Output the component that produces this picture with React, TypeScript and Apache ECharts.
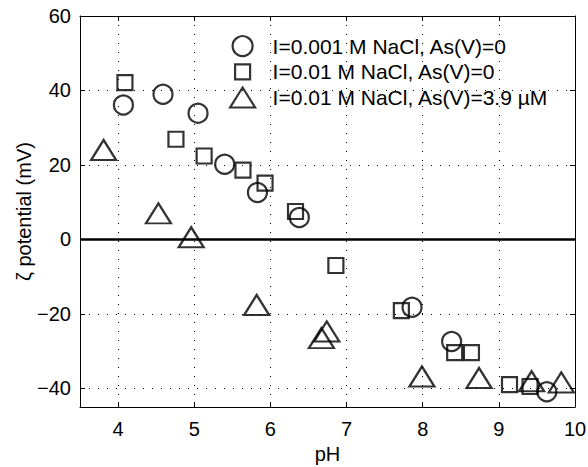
import React, { useEffect, useRef } from "react";
import * as echarts from "echarts";

const seriesNames = [
  "I=0.001 M NaCl, As(V)=0",
  "I=0.01 M NaCl, As(V)=0",
  "I=0.01 M NaCl, As(V)=3.9 \u00b5M",
];

const circlePH = [4.07, 4.59, 5.05, 5.4, 5.83, 6.38, 7.86, 8.38, 9.63];
const circleZeta = [36.1, 39.0, 33.9, 20.2, 12.6, 5.9, -18.2, -27.4, -40.9];

const squarePH = [4.09, 4.76, 5.13, 5.64, 5.93, 6.33, 6.86, 7.72, 8.42, 8.64, 9.14, 9.41];
const squareZeta = [42.1, 26.9, 22.4, 18.6, 15.1, 7.5, -7.0, -19.1, -30.4, -30.4, -39.0, -39.5];

const trianglePH = [3.81, 4.53, 4.96, 5.82, 6.74, 6.67, 7.99, 8.74, 9.43, 9.82];
const triangleZeta = [24.0, 7.0, 0.6, -17.6, -24.7, -26.5, -36.8, -37.2, -38.1, -38.4];

const xTicks = [4, 5, 6, 7, 8, 9, 10];
const yTicks = [-40, -20, 0, 20, 40, 60];

const FONT = "'Liberation Sans', Arial, Helvetica, sans-serif";
const FS = 20;

function pairs(xs: number[], ys: number[]) {
  return xs.map((x, i) => [x, ys[i]]);
}

export default function App() {
  const ref = useRef<HTMLDivElement>(null);

  useEffect(() => {
    if (!ref.current) return;
    const chart = echarts.init(ref.current, null, { renderer: "svg" });
    const markerStyle = { color: "transparent", borderColor: "#000", borderWidth: 2.2 };
    const fmt = (v: number) => String(v).replace("-", "\u2212");
    const option: any = {
      animation: false,
      backgroundColor: "#fff",
      textStyle: { fontFamily: FONT },
      grid: { left: 80, right: 13, top: 16, bottom: 60, show: false, containLabel: false, outerBoundsMode: "none" },
      legend: {
        orient: "vertical",
        left: 229,
        top: 35,
        padding: 0,
        itemWidth: 50,
        itemHeight: 20,
        itemGap: 3.5,
        symbolKeepAspect: true,
        selectedMode: false,
        textStyle: { fontSize: 21, lineHeight: 20, color: "#000", fontFamily: FONT },
        itemStyle: { color: "transparent", borderColor: "#000", borderWidth: 2.2 },
        data: [
          { name: seriesNames[0], icon: "circle" },
          { name: seriesNames[1], icon: "path://M0,0M20,20M2.5,2.5L17.5,2.5L17.5,17.5L2.5,17.5Z" },
          { name: seriesNames[2], icon: "path://M12.5,0L25,20L0,20Z" },
        ],
      },
      xAxis: [
        {
          type: "value",
          min: 3.5,
          max: 10,
          position: "bottom",
          name: "pH",
          nameLocation: "middle",
          nameGap: 37,
          nameMoveOverlap: false,
          nameTextStyle: { fontSize: FS, color: "#000", fontFamily: FONT },
          axisLine: { show: true, onZero: false, lineStyle: { color: "#000", width: 1 } },
          axisTick: { show: true, inside: true, length: 5, customValues: xTicks, lineStyle: { color: "#000" } },
          axisLabel: { fontSize: FS, color: "#000", margin: 12, customValues: xTicks, formatter: fmt, fontFamily: FONT },
          splitLine: { show: true, lineStyle: { color: "#000", width: 1, type: [1, 8] } },
        },
        {
          type: "value",
          min: 3.5,
          max: 10,
          position: "top",
          axisLine: { show: true, onZero: false, lineStyle: { color: "#000", width: 1 } },
          axisTick: { show: true, inside: true, length: 5, customValues: xTicks, lineStyle: { color: "#000" } },
          axisLabel: { show: false },
          splitLine: { show: false },
        },
      ],
      yAxis: [
        {
          type: "value",
          min: -45,
          max: 60,
          position: "left",
          name: "\u03b6 potential (mV)",
          nameLocation: "middle",
          nameGap: 46,
          nameMoveOverlap: false,
          nameTextStyle: { fontSize: FS, color: "#000", fontFamily: FONT },
          axisLine: { show: true, onZero: false, lineStyle: { color: "#000", width: 1 } },
          axisTick: { show: true, inside: true, length: 5, customValues: yTicks, lineStyle: { color: "#000" } },
          axisLabel: { fontSize: FS, color: "#000", margin: 9, customValues: yTicks, formatter: fmt, fontFamily: FONT },
          splitLine: { show: true, lineStyle: { color: "#000", width: 1, type: [1, 8] } },
        },
        {
          type: "value",
          min: -45,
          max: 60,
          position: "right",
          axisLine: { show: true, onZero: false, lineStyle: { color: "#000", width: 1 } },
          axisTick: { show: true, inside: true, length: 5, customValues: yTicks, lineStyle: { color: "#000" } },
          axisLabel: { show: false },
          splitLine: { show: false },
        },
      ],
      series: [
        {
          name: seriesNames[0],
          type: "scatter",
          symbol: "circle",
          symbolSize: 19,
          itemStyle: markerStyle,
          emphasis: { disabled: true },
          data: pairs(circlePH, circleZeta),
          markLine: {
            silent: true,
            symbol: ["none", "none"],
            label: { show: false },
            lineStyle: { color: "#000", width: 2.5, type: "solid" },
            data: [{ yAxis: 0 }],
          },
        },
        {
          name: seriesNames[1],
          type: "scatter",
          symbol: "rect",
          symbolSize: 15,
          itemStyle: markerStyle,
          emphasis: { disabled: true },
          data: pairs(squarePH, squareZeta),
        },
        {
          name: seriesNames[2],
          type: "scatter",
          symbol: "triangle",
          symbolSize: [25, 20],
          itemStyle: markerStyle,
          emphasis: { disabled: true },
          data: pairs(trianglePH, triangleZeta),
        },
      ],
    };
    chart.setOption(option);
    return () => chart.dispose();
  }, []);

  return (
    <div
      ref={ref}
      style={{ position: "fixed", left: 0, top: 0, width: 588, height: 467, background: "#fff" }}
    />
  );
}
